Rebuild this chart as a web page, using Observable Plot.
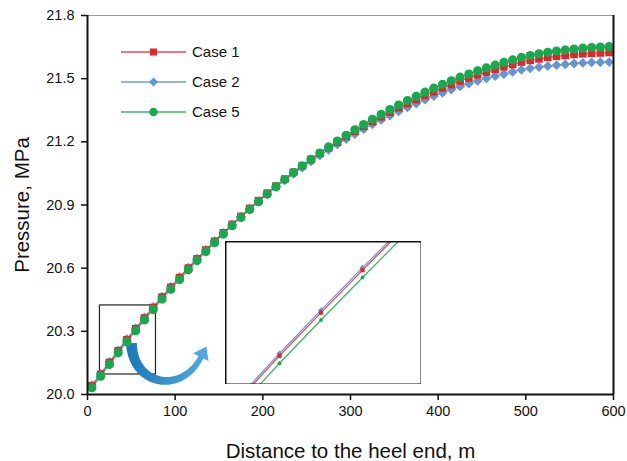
<!DOCTYPE html>
<html><head><meta charset="utf-8">
<script src="https://cdn.jsdelivr.net/npm/d3@7"></script>
<script src="https://cdn.jsdelivr.net/npm/@observablehq/plot@0.6"></script>
<style>
body{margin:0;background:#fff;}
#wrap{position:relative;width:627px;height:461px;font-family:"Liberation Sans",Arial,sans-serif;}
#wrap > div, #wrap > svg{position:absolute;}
</style></head><body><div id="wrap"></div>
<script>
// ---- data ----
const distance = [5,15,25,35,45,55,65,75,85,95,105,115,125,135,145,155,165,175,185,195,
  205,215,225,235,245,255,265,275,285,295,305,315,325,335,345,355,365,375,385,395,
  405,415,425,435,445,455,465,475,485,495,505,515,525,535,545,555,565,575,585,595];
const case1 = [20.041,20.096,20.152,20.207,20.260,20.312,20.363,20.413,20.462,20.509,
  20.555,20.600,20.644,20.686,20.728,20.768,20.808,20.846,20.884,20.921,
  20.956,20.990,21.023,21.055,21.086,21.116,21.145,21.172,21.199,21.225,
  21.250,21.274,21.297,21.319,21.341,21.362,21.382,21.401,21.420,21.438,
  21.456,21.472,21.489,21.503,21.518,21.531,21.544,21.556,21.567,21.579,
  21.587,21.594,21.601,21.606,21.610,21.615,21.618,21.621,21.622,21.624];
const case2 = [20.044,20.099,20.155,20.210,20.263,20.315,20.366,20.416,20.465,20.512,
  20.557,20.602,20.645,20.687,20.728,20.768,20.807,20.844,20.881,20.917,
  20.952,20.985,21.017,21.048,21.078,21.107,21.135,21.162,21.188,21.213,
  21.237,21.260,21.283,21.304,21.325,21.345,21.364,21.382,21.400,21.417,
  21.433,21.448,21.463,21.476,21.489,21.501,21.512,21.522,21.532,21.542,
  21.549,21.555,21.560,21.564,21.568,21.572,21.575,21.577,21.578,21.579];
const case5 = [20.032,20.087,20.143,20.198,20.251,20.303,20.354,20.404,20.453,20.500,
  20.546,20.592,20.636,20.679,20.721,20.762,20.802,20.841,20.879,20.916,
  20.952,20.987,21.021,21.054,21.086,21.117,21.147,21.176,21.204,21.231,
  21.257,21.282,21.307,21.330,21.353,21.375,21.396,21.416,21.436,21.455,
  21.473,21.490,21.507,21.522,21.537,21.551,21.564,21.577,21.589,21.601,
  21.610,21.618,21.625,21.631,21.636,21.641,21.645,21.648,21.650,21.652];
const seriesNames = ["Case 1", "Case 2", "Case 5"];
const xTicks = [0, 100, 200, 300, 400, 500, 600];
const yTicks = [20.0, 20.3, 20.6, 20.9, 21.2, 21.5, 21.8];
const xTitle = "Distance to the heel end, m";
const yTitle = "Pressure, MPa";
// annotations (data units)
const zoomBox = [{x1: 14.2, x2: 78.1, y1: 20.095, y2: 20.423}];
const insetX = [22, 69.2];
const insetY = [20.172, 20.347];
const arrowPath = [[50.7, 20.242], [52, 20.040], [108, 19.995], [130, 20.175]];

// ---- styles ----
const look = {
  "Case 1": {line: "#e84848", fill: "#e0262a", symbol: "square", r: 4.3, ri: 2.4},
  "Case 2": {line: "#6d9fd6", fill: "#6496cf", symbol: "diamond2", r: 4.4, ri: 2.6},
  "Case 5": {line: "#3cb46a", fill: "#18a94f", symbol: "circle", r: 4.6, ri: 1.9}
};
const valuesBy = {"Case 1": case1, "Case 2": case2, "Case 5": case5};
const rowsOf = name => distance.map((x, i) => ({x, p: valuesBy[name][i], series: name}));
const drawOrder = ["Case 2", "Case 1", "Case 5"];
const font = "'Liberation Sans', Arial, sans-serif";

function arrowMark(index, scales, values, dims) {
  const W = dims.width - dims.marginLeft - dims.marginRight;
  const H = dims.height - dims.marginTop - dims.marginBottom;
  const sx = scales.x || (v => dims.marginLeft + v / 600 * W);
  const sy = scales.y || (v => dims.marginTop + (21.8 - v) / 1.8 * H);
  const P = arrowPath.map(([a, b]) => [sx(a), sy(b)]);
  const bez = t => { const u = 1 - t; return [0, 1].map(k => u*u*u*P[0][k] + 3*u*u*t*P[1][k] + 3*u*t*t*P[2][k] + t*t*t*P[3][k]); };
  const der = t => { const u = 1 - t; return [0, 1].map(k => 3*u*u*(P[1][k]-P[0][k]) + 6*u*t*(P[2][k]-P[1][k]) + 3*t*t*(P[3][k]-P[2][k])); };
  const L = [], R = [];
  const n = 40;
  for (let i = 0; i <= n; i++) {
    const t = i / n, c = bez(t), d = der(t), len = Math.hypot(d[0], d[1]);
    const nx = -d[1] / len, ny = d[0] / len, w = 5.4 - 2.6 * t;
    L.push([c[0] + nx * w, c[1] + ny * w]);
    R.push([c[0] - nx * w, c[1] - ny * w]);
  }
  const E = P[3], d = der(1), len = Math.hypot(d[0], d[1]);
  const ux = d[0] / len, uy = d[1] / len, nx = -uy, ny = ux;
  const tip = [E[0] + ux * 12, E[1] + uy * 12];
  const b1 = [E[0] + nx * 8.5, E[1] + ny * 8.5], b2 = [E[0] - nx * 8.5, E[1] - ny * 8.5];
  const pts = [...L, b1, tip, b2, ...R.reverse()];
  const g = d3.create("svg:g");
  const grad = g.append("defs").append("linearGradient").attr("id", "arrowGrad")
    .attr("gradientUnits", "userSpaceOnUse")
    .attr("x1", P[0][0] - 5).attr("y1", P[0][1]).attr("x2", tip[0]).attr("y2", tip[1]);
  grad.append("stop").attr("offset", "0%").attr("stop-color", "#1a78b8");
  grad.append("stop").attr("offset", "100%").attr("stop-color", "#52aadd");
  g.append("path").attr("d", "M" + pts.map(p => p.join(",")).join("L") + "Z").attr("fill", "url(#arrowGrad)");
  return g.node();
}

const marks = [];
marks.push(Plot.rect(zoomBox, {x1: "x1", x2: "x2", y1: "y1", y2: "y2", fill: "none", stroke: "#222", strokeWidth: 1.2}));
marks.push(arrowMark);
for (const name of drawOrder) marks.push(Plot.line(rowsOf(name), {x: "x", y: "p", stroke: look[name].line, strokeWidth: 1.2}));
for (const name of drawOrder) marks.push(Plot.dot(rowsOf(name), {x: "x", y: "p", symbol: look[name].symbol, r: look[name].r, fill: look[name].fill, stroke: "none"}));
marks.push(
  Plot.ruleY([21.8], {stroke: "#999", strokeWidth: 1.2}),
  Plot.ruleX([600], {stroke: "#111", strokeWidth: 2}),
  Plot.ruleX([0], {stroke: "#111", strokeWidth: 2}),
  Plot.ruleY([20.0], {stroke: "#111", strokeWidth: 2}),
  Plot.axisX(xTicks, {tickSize: 6, tickPadding: 5, fontSize: 14.5, strokeWidth: 1.5, label: null, tickFormat: d => String(d)}),
  Plot.axisY(yTicks, {tickSize: 6, tickPadding: 7, fontSize: 14.5, strokeWidth: 1.5, label: null, tickFormat: d => d.toFixed(1)}),
  Plot.text([xTitle], {frameAnchor: "bottom", textAnchor: "middle", dy: 63, fontSize: 20.5}),
  Plot.text([yTitle], {frameAnchor: "left", textAnchor: "middle", lineAnchor: "middle", dx: -65, rotate: -90, fontSize: 20.5})
);

const main = Plot.plot({
  width: 627, height: 461,
  marginLeft: 87, marginRight: 14, marginTop: 15, marginBottom: 67,
  x: {domain: [0, 600], axis: null},
  y: {domain: [20.0, 21.8], axis: null},
  style: {fontFamily: font, color: "#111", background: "white", overflow: "visible"},
  marks
});

const inset = Plot.plot({
  width: 196, height: 143, margin: 0,
  x: {domain: insetX, axis: null},
  y: {domain: insetY, axis: null},
  style: {background: "white", overflow: "hidden"},
  marks: [
    ...drawOrder.map(name => Plot.line(rowsOf(name), {x: "x", y: "p", stroke: look[name].line, strokeWidth: 1.3, clip: true})),
    ...drawOrder.map(name => Plot.dot(rowsOf(name), {x: "x", y: "p", symbol: look[name].symbol, r: look[name].ri, fill: look[name].fill, clip: true})),
    Plot.frame({stroke: "#111", strokeWidth: 2})
  ]
});

const wrap = document.getElementById("wrap");
main.style.left = "0px"; main.style.top = "0px";
wrap.appendChild(main);
const insetHolder = document.createElement("div");
insetHolder.style.left = "225px"; insetHolder.style.top = "241px";
insetHolder.appendChild(inset);
wrap.appendChild(insetHolder);

// legend
const leg = d3.create("svg").attr("width", 627).attr("height", 461).style("left", "0px").style("top", "0px")
  .style("font-family", font).style("pointer-events", "none");
const symMap = {square: d3.symbolSquare, diamond2: d3.symbolDiamond2, circle: d3.symbolCircle};
seriesNames.forEach((name, i) => {
  const y = 52 + 30 * i;
  const gi = leg.append("g").attr("transform", `translate(0,${y})`);
  gi.append("line").attr("x1", 121).attr("x2", 186).attr("y1", 0).attr("y2", 0).attr("stroke", look[name].line).attr("stroke-width", 1.3);
  gi.append("path").attr("transform", "translate(153.5,0)").attr("fill", look[name].fill)
    .attr("d", d3.symbol(symMap[look[name].symbol], Math.PI * look[name].r * look[name].r * 0.85)());
  gi.append("text").attr("x", 192).attr("y", 0).attr("dy", "0.35em").attr("font-size", 15).attr("fill", "#111").text(name);
});
wrap.appendChild(leg.node());
</script></body></html>
